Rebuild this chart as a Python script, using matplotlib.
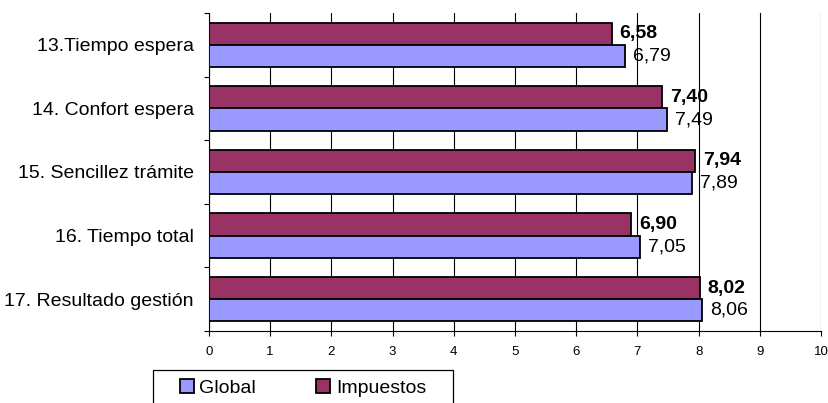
import numpy as np
import matplotlib
matplotlib.use("Agg")
import matplotlib.pyplot as plt
from matplotlib.patches import Rectangle

plt.rcParams['font.family'] = ['Liberation Sans', 'DejaVu Sans']

# datos
categorias = ["13.Tiempo espera", "14. Confort espera", "15. Sencillez trámite",
              "16. Tiempo total", "17. Resultado gestión"]
global_vals = [6.79, 7.49, 7.89, 7.05, 8.06]
impuestos_vals = [6.58, 7.40, 7.94, 6.90, 8.02]
xticks = list(range(0, 11))

col_global = "#9999FF"
col_imp = "#993366"

fig = plt.figure(figsize=(8.29, 4.03), dpi=100)
ax = fig.add_axes([209/829, 1-331/403, (821-209)/829, (331-13)/403])

n = len(categorias)
y = np.arange(n)[::-1]  # 13 arriba
h = 0.35

ax.barh(y + h/2, impuestos_vals, height=h, color=col_imp, edgecolor="black", linewidth=1.3, zorder=3)
ax.barh(y - h/2, global_vals, height=h, color=col_global, edgecolor="black", linewidth=1.3, zorder=3)

for yi, v in zip(y, impuestos_vals):
    ax.text(v + 0.13, yi + h/2, f"{v:.2f}".replace(".", ","), va="center", ha="left",
            fontsize=14, fontweight="bold", zorder=4)
for yi, v in zip(y, global_vals):
    ax.text(v + 0.13, yi - h/2, f"{v:.2f}".replace(".", ","), va="center", ha="left",
            fontsize=14, zorder=4)

ax.set_xlim(0, 10)
ax.set_ylim(-0.5, n - 0.5)
ax.set_xticks(xticks)
ax.tick_params(axis="x", labelsize=9.5, length=3.5, width=0.8, pad=7, direction="out")
ax.grid(axis="x", color="black", linewidth=0.8, zorder=0)

# ticks del eje y en los limites de categoria, etiquetas en el centro
ax.set_yticks(np.arange(n + 1) - 0.5)
ax.set_yticklabels([])
ax.set_yticks(y, minor=True)
ax.set_yticklabels(categorias, minor=True, fontsize=14)
ax.tick_params(axis="y", which="major", length=3.5, width=0.8)
ax.tick_params(axis="y", which="minor", length=0, pad=11)

for s in ["top", "right"]:
    ax.spines[s].set_visible(False)
ax.spines["left"].set_linewidth(0.8)
ax.spines["bottom"].set_linewidth(0.8)

# leyenda (caja cortada por abajo como en el original)
fig.patches.append(Rectangle((153/829, -10/403), 300/829, 43/403, transform=fig.transFigure,
                             facecolor="white", edgecolor="black", linewidth=0.9, clip_on=False))
handles = [Rectangle((0, 0), 1, 1, facecolor=col_global, edgecolor="black", linewidth=1.3),
           Rectangle((0, 0), 1, 1, facecolor=col_imp, edgecolor="black", linewidth=1.3)]
fig.legend(handles, ["Global", "Impuestos"], loc="center left",
           bbox_to_anchor=(180/829, 1-388/403), ncol=2, frameon=False, fontsize=14,
           handlelength=0.7, handleheight=0.7, handletextpad=0.3, columnspacing=3.1,
           borderaxespad=0, borderpad=0)

fig.savefig("out.png", dpi=100)
